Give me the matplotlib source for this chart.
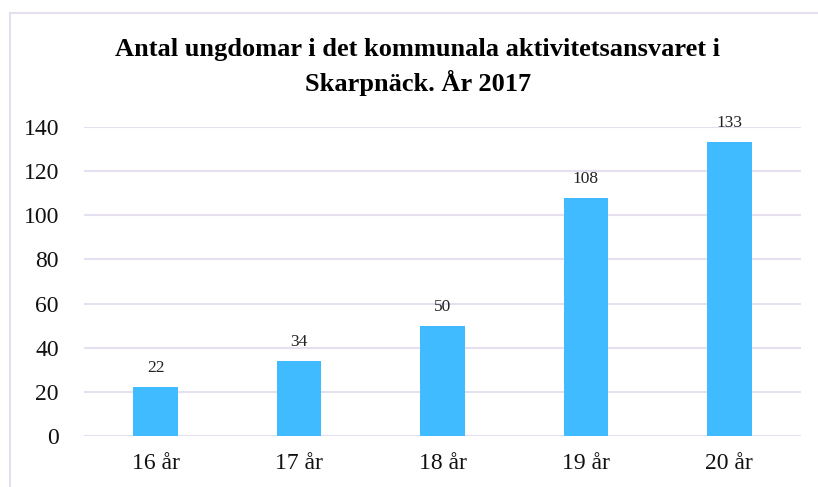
import matplotlib
matplotlib.use("Agg")
from matplotlib import pyplot as plt
from matplotlib.patches import Rectangle

# data
categories = ["16 år", "17 år", "18 år", "19 år", "20 år"]
values = [22, 34, 50, 108, 133]
yticks = [0, 20, 40, 60, 80, 100, 120, 140]
title = "Antal ungdomar i det kommunala aktivitetsansvaret i\nSkarpnäck. År 2017"

bar_color = "#41BBFF"
grid_color = "#E6DFF0"

plt.rcParams["font.family"] = ["Liberation Serif", "DejaVu Serif"]

fig = plt.figure(figsize=(8.18, 4.87), dpi=100)
ax = fig.add_axes([84 / 818, 1 - 436 / 487, 717 / 818, 309 / 487])

x = range(len(categories))
ax.bar(x, values, width=0.31, color=bar_color, zorder=3)
for xi, v in zip(x, values):
    ax.annotate(str(v), (xi, v), xytext=(0, 8), textcoords="offset points",
                ha="center", va="bottom", fontsize=12.5, color="#222222",
                annotation_clip=False)

ax.set_xlim(-0.5, len(categories) - 0.5)
ax.set_ylim(0, 140)
ax.set_yticks(yticks)
ax.set_xticks(list(x))
ax.set_xticklabels(categories)
ax.tick_params(axis="both", length=0, labelsize=17, colors="#111111")
ax.tick_params(axis="y", pad=18)
ax.tick_params(axis="x", pad=12)
ax.yaxis.grid(True, color=grid_color, linewidth=1.5, zorder=0)
ax.set_axisbelow(True)
for s in ax.spines.values():
    s.set_visible(False)
ax.axhline(0, color=grid_color, linewidth=1.5, zorder=1)

fig.text(0.511, 1 - 67 / 487, title, ha="center", va="center",
         fontsize=19, fontweight="bold", linespacing=1.38)

# chart frame (only top and left edges are visible in the crop)
fig.patches.append(Rectangle((10 / 818, -0.1), 1.0, 1 - 13 / 487 + 0.1,
                             transform=fig.transFigure, fill=False,
                             edgecolor=grid_color, linewidth=1.5))

fig.savefig("out.png", dpi=100)
